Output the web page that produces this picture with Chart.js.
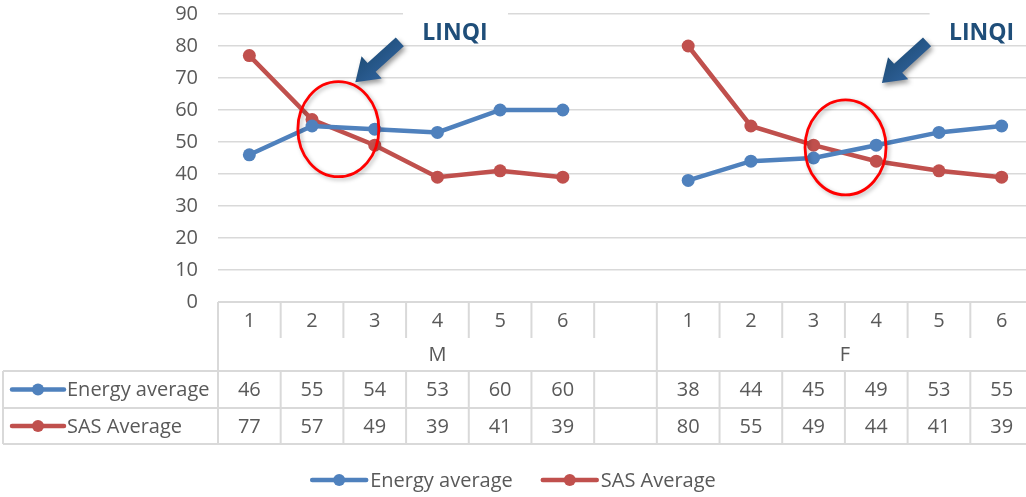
<!DOCTYPE html>
<html>
<head>
<meta charset="utf-8">
<script src="https://cdn.jsdelivr.net/npm/chart.js@4/dist/chart.umd.min.js"></script>
<style>
  html, body { margin: 0; padding: 0; background: #fff; overflow: hidden; }
  #wrap { width: 1040px; height: 497px; }
</style>
</head>
<body>
<div id="wrap"><canvas id="c" width="1040" height="497"></canvas></div>
<script>
// ---- data ----
const categories = ['1', '2', '3', '4', '5', '6', '', '1', '2', '3', '4', '5', '6'];
const groupLabels = ['M', 'F'];
const groupSpans = [7, 6];
const energyAverage = [46, 55, 54, 53, 60, 60, null, 38, 44, 45, 49, 53, 55];
const sasAverage = [77, 57, 49, 39, 41, 39, null, 80, 55, 49, 44, 41, 39];
const seriesNames = ['Energy average', 'SAS Average'];
const yMin = 0, yMax = 90, yStep = 10;

// ---- styling ----
const BLUE = '#4F81BD';
const RED = '#C0504D';
const TEXT = '#595959';
const RULE = '#D9D9D9';
const FONT = '"Open Sans", "Liberation Sans", sans-serif';
const NOTE_BLUE = '#1F4E79';
const TXT_SIZE = 20;

// callouts placed in data space (category index, value)
const callouts = [
  { ring: [1.42, 54], tip: [1.69, 68.7], tail: [2.40, 81.3], label: [3.28, 83.8] },
  { ring: [9.51, 48.3], tip: [10.09, 68.4], tail: [10.81, 81.3], label: [11.68, 83.8] }
];

const dataTable = {
  id: 'dataTable',
  afterDraw(chart) {
    const { ctx, chartArea: { left, right, bottom }, scales: { x } } = chart;
    const n = categories.length;
    const colW = (right - left) / n;
    const y0 = bottom, y1 = y0 + 36, y2 = y1 + 33, y3 = y2 + 37, y4 = y3 + 36;
    const tableLeft = 3;
    ctx.save();
    ctx.strokeStyle = RULE;
    ctx.lineWidth = 2;
    const line = (ax, ay, bx, by) => { ctx.beginPath(); ctx.moveTo(ax, ay); ctx.lineTo(bx, by); ctx.stroke(); };
    line(left, y0, right, y0);
    line(tableLeft, y2, right, y2);
    line(tableLeft, y3, right, y3);
    line(tableLeft, y4, right, y4);
    line(tableLeft, y2, tableLeft, y4);
    for (let i = 0; i <= n; i++) {
      const bx = left + i * colW;
      line(bx, y0, bx, y1);
      line(bx, y2, bx, y4);
    }
    let acc = 0;
    line(left, y1, left, y2);
    groupSpans.forEach(s => { acc += s; line(left + acc * colW, y1, left + acc * colW, y2); });

    ctx.fillStyle = TEXT;
    ctx.font = TXT_SIZE + 'px ' + FONT;
    ctx.textAlign = 'center';
    ctx.textBaseline = 'middle';
    categories.forEach((c, i) => {
      const cx = x.getPixelForValue(i);
      ctx.fillText(c, cx, (y0 + y1) / 2 + 1);
      if (energyAverage[i] !== null) ctx.fillText(String(energyAverage[i]), cx, (y2 + y3) / 2 + 1);
      if (sasAverage[i] !== null) ctx.fillText(String(sasAverage[i]), cx, (y3 + y4) / 2 + 1);
    });
    acc = 0;
    groupLabels.forEach((g, k) => {
      const gx = left + (acc + groupSpans[k] / 2) * colW;
      ctx.fillText(g, gx, (y1 + y2) / 2 + 1);
      acc += groupSpans[k];
    });

    // series keys in the first column
    [[BLUE, seriesNames[0], (y2 + y3) / 2], [RED, seriesNames[1], (y3 + y4) / 2]].forEach(([col, name, cy]) => {
      drawKey(ctx, 12, 64, cy, col);
      ctx.fillStyle = TEXT;
      ctx.textAlign = 'left';
      ctx.fillText(name, 67, cy + 1);
    });
    ctx.restore();
  }
};

function drawKey(ctx, x0, x1, cy, col) {
  ctx.save();
  ctx.strokeStyle = col;
  ctx.lineWidth = 4.5;
  ctx.lineCap = 'round';
  ctx.beginPath(); ctx.moveTo(x0, cy); ctx.lineTo(x1, cy); ctx.stroke();
  ctx.fillStyle = col;
  ctx.beginPath(); ctx.arc((x0 + x1) / 2, cy, 6, 0, Math.PI * 2); ctx.fill();
  ctx.restore();
}

const bottomLegend = {
  id: 'bottomLegend',
  afterDraw(chart) {
    const { ctx } = chart;
    ctx.save();
    ctx.font = TXT_SIZE + 'px ' + FONT;
    ctx.textBaseline = 'middle';
    ctx.textAlign = 'left';
    const keyW = 54, gapKT = 4, gapItems = 30;
    const items = [[BLUE, seriesNames[0]], [RED, seriesNames[1]]];
    const widths = items.map(([, t]) => keyW + gapKT + ctx.measureText(t).width);
    const total = widths.reduce((a, b) => a + b, 0) + gapItems;
    let px = 514 - total / 2;
    const cy = 480;
    items.forEach(([col, t], k) => {
      drawKey(ctx, px, px + keyW, cy, col);
      ctx.fillStyle = TEXT;
      ctx.fillText(t, px + keyW + gapKT, cy + 1);
      px += widths[k] + gapItems;
    });
    ctx.restore();
  }
};

const notes = {
  id: 'notes',
  beforeDatasetsDraw(chart) {
    const { ctx, scales: { x } } = chart;
    ctx.save();
    ctx.fillStyle = '#ffffff';
    callouts.forEach(c => {
      const lx = x.getPixelForValue(c.label[0]);
      ctx.fillRect(lx - 52, 0, 105, 40);
    });
    ctx.restore();
  },
  afterDatasetsDraw(chart) {
    const { ctx, scales: { x, y } } = chart;
    callouts.forEach(c => {
      // ring
      ctx.save();
      ctx.shadowColor = 'rgba(0,0,0,0.28)';
      ctx.shadowBlur = 4;
      ctx.shadowOffsetX = 2;
      ctx.shadowOffsetY = 2;
      ctx.strokeStyle = '#FF0000';
      ctx.lineWidth = 2.8;
      ctx.beginPath();
      ctx.ellipse(x.getPixelForValue(c.ring[0]), y.getPixelForValue(c.ring[1]), 40.5, 47.5, 0, 0, Math.PI * 2);
      ctx.stroke();
      ctx.restore();

      // arrow
      const tx = x.getPixelForValue(c.tip[0]), ty = y.getPixelForValue(c.tip[1]);
      const sx = x.getPixelForValue(c.tail[0]), sy = y.getPixelForValue(c.tail[1]);
      const len = Math.hypot(tx - sx, ty - sy);
      const ang = Math.atan2(ty - sy, tx - sx);
      const shaft = 12, headW = 30, headL = 22;
      ctx.save();
      ctx.translate(sx, sy);
      ctx.rotate(ang);
      ctx.shadowColor = 'rgba(0,0,0,0.4)';
      ctx.shadowBlur = 5;
      ctx.shadowOffsetX = 2;
      ctx.shadowOffsetY = 3;
      const grad = ctx.createLinearGradient(0, -headW / 2, 0, headW / 2);
      grad.addColorStop(0, '#2E6099');
      grad.addColorStop(1, NOTE_BLUE);
      ctx.fillStyle = grad;
      ctx.beginPath();
      ctx.moveTo(0, -shaft / 2);
      ctx.lineTo(len - headL, -shaft / 2);
      ctx.lineTo(len - headL, -headW / 2);
      ctx.lineTo(len, 0);
      ctx.lineTo(len - headL, headW / 2);
      ctx.lineTo(len - headL, shaft / 2);
      ctx.lineTo(0, shaft / 2);
      ctx.closePath();
      ctx.fill();
      ctx.restore();

      // label
      ctx.save();
      ctx.fillStyle = NOTE_BLUE;
      ctx.font = 'bold 23px ' + FONT;
      ctx.textAlign = 'center';
      ctx.textBaseline = 'middle';
      ctx.fillText('LINQI', x.getPixelForValue(c.label[0]), y.getPixelForValue(c.label[1]));
      ctx.restore();
    });
  }
};

Chart.defaults.font.family = FONT;
Chart.defaults.color = TEXT;

new Chart(document.getElementById('c'), {
  type: 'line',
  data: {
    labels: categories,
    datasets: [
      {
        label: seriesNames[0],
        data: energyAverage,
        borderColor: BLUE,
        backgroundColor: BLUE,
        borderWidth: 4.5,
        pointRadius: 6.5,
        pointHoverRadius: 6.5,
        pointBorderWidth: 0,
        tension: 0,
        spanGaps: false
      },
      {
        label: seriesNames[1],
        data: sasAverage,
        borderColor: RED,
        backgroundColor: RED,
        borderWidth: 4.5,
        pointRadius: 6.5,
        pointHoverRadius: 6.5,
        pointBorderWidth: 0,
        tension: 0,
        spanGaps: false
      }
    ]
  },
  options: {
    responsive: false,
    animation: false,
    devicePixelRatio: 1,
    layout: { padding: { top: 14, right: 7, bottom: 195, left: 0 } },
    plugins: { legend: { display: false }, tooltip: { enabled: false } },
    scales: {
      x: { type: 'category', offset: true, display: false },
      y: {
        min: yMin, max: yMax,
        ticks: { stepSize: yStep, color: TEXT, font: { size: TXT_SIZE }, padding: 20 },
        grid: { color: RULE, lineWidth: 1.5, drawTicks: false },
        border: { display: false },
        afterFit(scale) {
          scale.width = 218;
          scale.paddingTop = 0;
          scale.paddingBottom = 0;
        }
      }
    }
  },
  plugins: [notes, dataTable, bottomLegend]
});
</script>
</body>
</html>
